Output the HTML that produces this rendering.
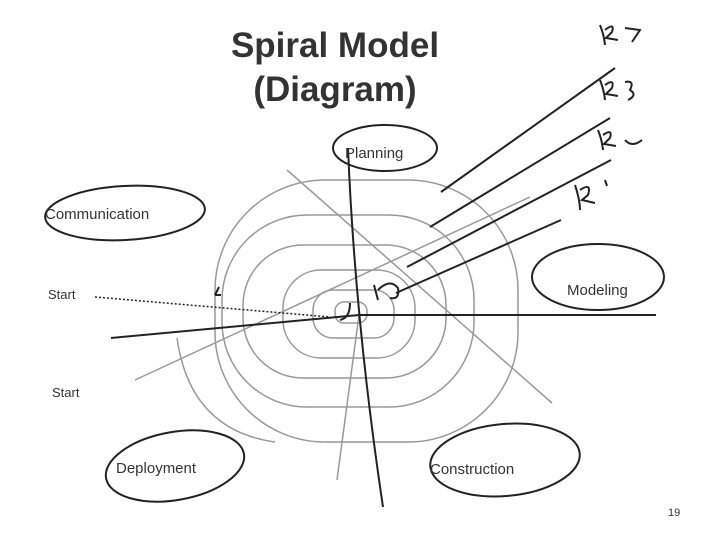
<!DOCTYPE html>
<html><head><style>
body{margin:0;background:#fff;}
svg{display:block}
text{font-family:"Liberation Sans",sans-serif;fill:#333}
</style></head><body>
<svg width="720" height="540" viewBox="0 0 720 540">
<text x="335" y="57" text-anchor="middle" font-size="35" font-weight="bold" fill="#222">Spiral Model</text>
<text x="335" y="101" text-anchor="middle" font-size="35" font-weight="bold" fill="#222">(Diagram)</text>
<g fill="none" stroke="#999" stroke-width="1.5">
<rect x="215" y="180" width="303" height="262" rx="110"/>
<rect x="222" y="215" width="252" height="192" rx="85"/>
<rect x="243" y="245" width="203" height="133" rx="60"/>
<rect x="283" y="270" width="132" height="88" rx="38"/>
<rect x="313" y="290" width="81" height="48" rx="20"/>
<rect x="335" y="302" width="32" height="21" rx="9"/>
<line x1="287" y1="170" x2="552" y2="403"/>
<line x1="135" y1="380" x2="530" y2="197"/>
<line x1="337" y1="480" x2="359" y2="315"/>
<path d="M177 338 Q190 430 275 442"/>
</g>
<g fill="none" stroke="#222" stroke-width="2">
<path d="M348 148 Q355 320 383 507"/>
<path d="M111 338 L359 315 L656 315"/>
<line x1="441" y1="192" x2="615" y2="68"/>
<line x1="430" y1="227" x2="610" y2="118"/>
<line x1="407" y1="267" x2="611" y2="160"/>
<line x1="396" y1="293" x2="561" y2="220"/>
<line x1="95" y1="297" x2="330" y2="317" stroke-dasharray="2 2" stroke-width="1.5"/>
<path d="M378 290 Q390 278 398 288 Q400 300 390 298"/>
<path d="M374 285 L378 300"/>
<path d="M350 303 Q350 318 340 320"/>
<path d="M215 295 l4 -8 M215 295 l6 0"/>
<ellipse cx="125" cy="213" rx="80" ry="27" transform="rotate(-3 125 213)"/>
<ellipse cx="385" cy="148" rx="52" ry="23"/>
<ellipse cx="598" cy="277" rx="66" ry="33"/>
<ellipse cx="175" cy="466" rx="70" ry="34" transform="rotate(-10 175 466)"/>
<ellipse cx="505" cy="460" rx="75" ry="36" transform="rotate(-5 505 460)"/>
<path d="M600 25 Q604 35 605 45 M605 30 Q615 22 612 32 L606 38 L618 40 M625 28 L640 30 L632 42"/>
<path d="M600 80 Q604 90 605 100 M605 85 Q615 78 612 88 L606 94 L618 96 M625 82 Q635 80 630 90 Q638 95 628 100"/>
<path d="M598 130 Q602 140 603 150 M603 135 Q613 128 610 138 L604 144 L616 146 M625 140 Q632 148 642 140"/>
<path d="M575 185 Q580 200 580 210 M580 190 Q592 182 588 195 L582 200 L595 203 M605 180 L607 186"/>
</g>
<text x="45" y="219" font-size="15">Communication</text>
<text x="345" y="158" font-size="15">Planning</text>
<text x="567" y="295" font-size="15">Modeling</text>
<text x="48" y="299" font-size="13">Start</text>
<text x="52" y="397" font-size="13">Start</text>
<text x="116" y="473" font-size="15">Deployment</text>
<text x="430" y="474" font-size="15">Construction</text>
<text x="668" y="516" font-size="11" font-family="Liberation Serif">19</text>
</svg>
</body></html>
